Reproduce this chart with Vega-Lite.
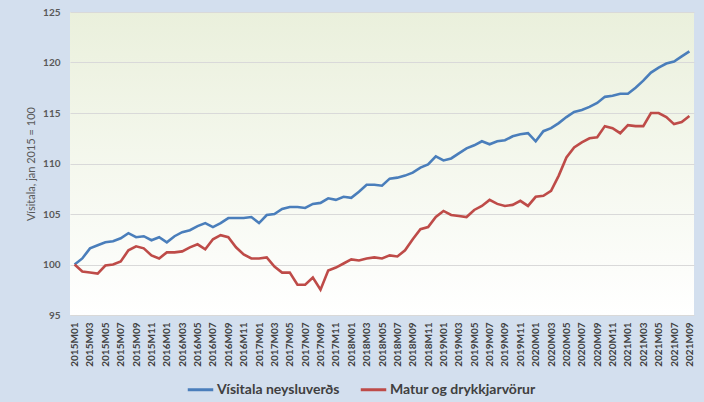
{
  "$schema": "https://vega.github.io/schema/vega-lite/v6.json",
  "width": 624,
  "height": 303,
  "autosize": {"type": "none"},
  "padding": {"left": 70, "top": 12, "right": 10, "bottom": 87},
  "background": "#d3dfee",
  "config": {
    "font": "Lato",
    "view": {
      "stroke": null,
      "fill": {"gradient": "linear", "x1": 0, "y1": 0, "x2": 0, "y2": 1,
        "stops": [{"offset": 0, "color": "#eaf0dc"}, {"offset": 1, "color": "#ffffff"}]}
    }
  },
  "data": {"values": [
    {"m": "2015M01", "Vísitala neysluverðs": 100.0, "Matur og drykkjarvörur": 100.0},
    {"m": "2015M02", "Vísitala neysluverðs": 100.6, "Matur og drykkjarvörur": 99.3},
    {"m": "2015M03", "Vísitala neysluverðs": 101.6, "Matur og drykkjarvörur": 99.2},
    {"m": "2015M04", "Vísitala neysluverðs": 101.9, "Matur og drykkjarvörur": 99.1},
    {"m": "2015M05", "Vísitala neysluverðs": 102.2, "Matur og drykkjarvörur": 99.9},
    {"m": "2015M06", "Vísitala neysluverðs": 102.3, "Matur og drykkjarvörur": 100.0},
    {"m": "2015M07", "Vísitala neysluverðs": 102.6, "Matur og drykkjarvörur": 100.3},
    {"m": "2015M08", "Vísitala neysluverðs": 103.1, "Matur og drykkjarvörur": 101.4},
    {"m": "2015M09", "Vísitala neysluverðs": 102.7, "Matur og drykkjarvörur": 101.8},
    {"m": "2015M10", "Vísitala neysluverðs": 102.8, "Matur og drykkjarvörur": 101.6},
    {"m": "2015M11", "Vísitala neysluverðs": 102.4, "Matur og drykkjarvörur": 100.9},
    {"m": "2015M12", "Vísitala neysluverðs": 102.7, "Matur og drykkjarvörur": 100.6},
    {"m": "2016M01", "Vísitala neysluverðs": 102.2, "Matur og drykkjarvörur": 101.2},
    {"m": "2016M02", "Vísitala neysluverðs": 102.8, "Matur og drykkjarvörur": 101.2},
    {"m": "2016M03", "Vísitala neysluverðs": 103.2, "Matur og drykkjarvörur": 101.3},
    {"m": "2016M04", "Vísitala neysluverðs": 103.4, "Matur og drykkjarvörur": 101.7},
    {"m": "2016M05", "Vísitala neysluverðs": 103.8, "Matur og drykkjarvörur": 102.0},
    {"m": "2016M06", "Vísitala neysluverðs": 104.1, "Matur og drykkjarvörur": 101.5},
    {"m": "2016M07", "Vísitala neysluverðs": 103.7, "Matur og drykkjarvörur": 102.5},
    {"m": "2016M08", "Vísitala neysluverðs": 104.1, "Matur og drykkjarvörur": 102.9},
    {"m": "2016M09", "Vísitala neysluverðs": 104.6, "Matur og drykkjarvörur": 102.7},
    {"m": "2016M10", "Vísitala neysluverðs": 104.6, "Matur og drykkjarvörur": 101.7},
    {"m": "2016M11", "Vísitala neysluverðs": 104.6, "Matur og drykkjarvörur": 101.0},
    {"m": "2016M12", "Vísitala neysluverðs": 104.7, "Matur og drykkjarvörur": 100.6},
    {"m": "2017M01", "Vísitala neysluverðs": 104.1, "Matur og drykkjarvörur": 100.6},
    {"m": "2017M02", "Vísitala neysluverðs": 104.9, "Matur og drykkjarvörur": 100.7},
    {"m": "2017M03", "Vísitala neysluverðs": 105.0, "Matur og drykkjarvörur": 99.8},
    {"m": "2017M04", "Vísitala neysluverðs": 105.5, "Matur og drykkjarvörur": 99.2},
    {"m": "2017M05", "Vísitala neysluverðs": 105.7, "Matur og drykkjarvörur": 99.2},
    {"m": "2017M06", "Vísitala neysluverðs": 105.7, "Matur og drykkjarvörur": 98.0},
    {"m": "2017M07", "Vísitala neysluverðs": 105.6, "Matur og drykkjarvörur": 98.0},
    {"m": "2017M08", "Vísitala neysluverðs": 106.0, "Matur og drykkjarvörur": 98.7},
    {"m": "2017M09", "Vísitala neysluverðs": 106.1, "Matur og drykkjarvörur": 97.5},
    {"m": "2017M10", "Vísitala neysluverðs": 106.55, "Matur og drykkjarvörur": 99.4},
    {"m": "2017M11", "Vísitala neysluverðs": 106.4, "Matur og drykkjarvörur": 99.7},
    {"m": "2017M12", "Vísitala neysluverðs": 106.7, "Matur og drykkjarvörur": 100.1},
    {"m": "2018M01", "Vísitala neysluverðs": 106.6, "Matur og drykkjarvörur": 100.5},
    {"m": "2018M02", "Vísitala neysluverðs": 107.2, "Matur og drykkjarvörur": 100.4},
    {"m": "2018M03", "Vísitala neysluverðs": 107.9, "Matur og drykkjarvörur": 100.6},
    {"m": "2018M04", "Vísitala neysluverðs": 107.9, "Matur og drykkjarvörur": 100.7},
    {"m": "2018M05", "Vísitala neysluverðs": 107.8, "Matur og drykkjarvörur": 100.6},
    {"m": "2018M06", "Vísitala neysluverðs": 108.5, "Matur og drykkjarvörur": 100.9},
    {"m": "2018M07", "Vísitala neysluverðs": 108.6, "Matur og drykkjarvörur": 100.8},
    {"m": "2018M08", "Vísitala neysluverðs": 108.8, "Matur og drykkjarvörur": 101.4},
    {"m": "2018M09", "Vísitala neysluverðs": 109.1, "Matur og drykkjarvörur": 102.5},
    {"m": "2018M10", "Vísitala neysluverðs": 109.6, "Matur og drykkjarvörur": 103.5},
    {"m": "2018M11", "Vísitala neysluverðs": 109.9, "Matur og drykkjarvörur": 103.7},
    {"m": "2018M12", "Vísitala neysluverðs": 110.7, "Matur og drykkjarvörur": 104.7},
    {"m": "2019M01", "Vísitala neysluverðs": 110.3, "Matur og drykkjarvörur": 105.3},
    {"m": "2019M02", "Vísitala neysluverðs": 110.5, "Matur og drykkjarvörur": 104.9},
    {"m": "2019M03", "Vísitala neysluverðs": 111.0, "Matur og drykkjarvörur": 104.8},
    {"m": "2019M04", "Vísitala neysluverðs": 111.5, "Matur og drykkjarvörur": 104.7},
    {"m": "2019M05", "Vísitala neysluverðs": 111.8, "Matur og drykkjarvörur": 105.4},
    {"m": "2019M06", "Vísitala neysluverðs": 112.2, "Matur og drykkjarvörur": 105.8},
    {"m": "2019M07", "Vísitala neysluverðs": 111.9, "Matur og drykkjarvörur": 106.4},
    {"m": "2019M08", "Vísitala neysluverðs": 112.2, "Matur og drykkjarvörur": 106.0},
    {"m": "2019M09", "Vísitala neysluverðs": 112.3, "Matur og drykkjarvörur": 105.8},
    {"m": "2019M10", "Vísitala neysluverðs": 112.7, "Matur og drykkjarvörur": 105.9},
    {"m": "2019M11", "Vísitala neysluverðs": 112.9, "Matur og drykkjarvörur": 106.3},
    {"m": "2019M12", "Vísitala neysluverðs": 113.0, "Matur og drykkjarvörur": 105.8},
    {"m": "2020M01", "Vísitala neysluverðs": 112.2, "Matur og drykkjarvörur": 106.7},
    {"m": "2020M02", "Vísitala neysluverðs": 113.2, "Matur og drykkjarvörur": 106.8},
    {"m": "2020M03", "Vísitala neysluverðs": 113.5, "Matur og drykkjarvörur": 107.3},
    {"m": "2020M04", "Vísitala neysluverðs": 114.0, "Matur og drykkjarvörur": 108.8},
    {"m": "2020M05", "Vísitala neysluverðs": 114.6, "Matur og drykkjarvörur": 110.6},
    {"m": "2020M06", "Vísitala neysluverðs": 115.1, "Matur og drykkjarvörur": 111.6},
    {"m": "2020M07", "Vísitala neysluverðs": 115.3, "Matur og drykkjarvörur": 112.1},
    {"m": "2020M08", "Vísitala neysluverðs": 115.6, "Matur og drykkjarvörur": 112.5},
    {"m": "2020M09", "Vísitala neysluverðs": 116.0, "Matur og drykkjarvörur": 112.6},
    {"m": "2020M10", "Vísitala neysluverðs": 116.6, "Matur og drykkjarvörur": 113.7},
    {"m": "2020M11", "Vísitala neysluverðs": 116.7, "Matur og drykkjarvörur": 113.5},
    {"m": "2020M12", "Vísitala neysluverðs": 116.9, "Matur og drykkjarvörur": 113.0},
    {"m": "2021M01", "Vísitala neysluverðs": 116.9, "Matur og drykkjarvörur": 113.8},
    {"m": "2021M02", "Vísitala neysluverðs": 117.5, "Matur og drykkjarvörur": 113.7},
    {"m": "2021M03", "Vísitala neysluverðs": 118.2, "Matur og drykkjarvörur": 113.7},
    {"m": "2021M04", "Vísitala neysluverðs": 119.0, "Matur og drykkjarvörur": 115.0},
    {"m": "2021M05", "Vísitala neysluverðs": 119.5, "Matur og drykkjarvörur": 115.0},
    {"m": "2021M06", "Vísitala neysluverðs": 119.9, "Matur og drykkjarvörur": 114.6},
    {"m": "2021M07", "Vísitala neysluverðs": 120.1, "Matur og drykkjarvörur": 113.9},
    {"m": "2021M08", "Vísitala neysluverðs": 120.6, "Matur og drykkjarvörur": 114.1},
    {"m": "2021M09", "Vísitala neysluverðs": 121.1, "Matur og drykkjarvörur": 114.7}
  ]},
  "transform": [
    {"fold": ["Vísitala neysluverðs", "Matur og drykkjarvörur"], "as": ["series", "value"]}
  ],
  "mark": {"type": "line", "strokeWidth": 2.6},
  "encoding": {
    "x": {
      "field": "m", "type": "ordinal", "sort": null,
      "scale": {"type": "point", "padding": 0.6},
      "axis": {
        "title": null, "domain": false, "ticks": false, "grid": false,
        "labelAngle": -90, "labelAlign": "right", "labelBaseline": "middle",
        "labelPadding": 7, "labelFontSize": 10, "labelFontWeight": "bold",
        "labelColor": "#404040", "labelOverlap": false,
        "labelExpr": "toNumber(substring(datum.label, 5, 7)) % 2 == 1 ? datum.label : ''"
      }
    },
    "y": {
      "field": "value", "type": "quantitative",
      "scale": {"domain": [95, 125], "nice": false, "zero": false},
      "axis": {
        "title": "Vísitala, jan 2015 = 100", "titleFontSize": 11, "titleFontWeight": "normal",
        "titleColor": "#595959", "titlePadding": 6,
        "values": [95, 100, 105, 110, 115, 120, 125],
        "domain": false, "ticks": false, "labelPadding": 10,
        "labelFontSize": 10, "labelFontWeight": "bold", "labelColor": "#595959",
        "gridColor": "#d9d9d9", "gridWidth": 1
      }
    },
    "color": {
      "field": "series", "type": "nominal",
      "scale": {"domain": ["Vísitala neysluverðs", "Matur og drykkjarvörur"], "range": ["#4a7ebb", "#be4b48"]},
      "legend": {
        "title": null, "orient": "none", "direction": "horizontal",
        "legendX": 116, "legendY": 363,
        "symbolType": "stroke", "symbolSize": 650, "symbolStrokeWidth": 3,
        "labelFontSize": 14, "labelFontWeight": "bold", "labelColor": "#404040",
        "columnPadding": 14, "labelOffset": 2
      }
    }
  }
}
